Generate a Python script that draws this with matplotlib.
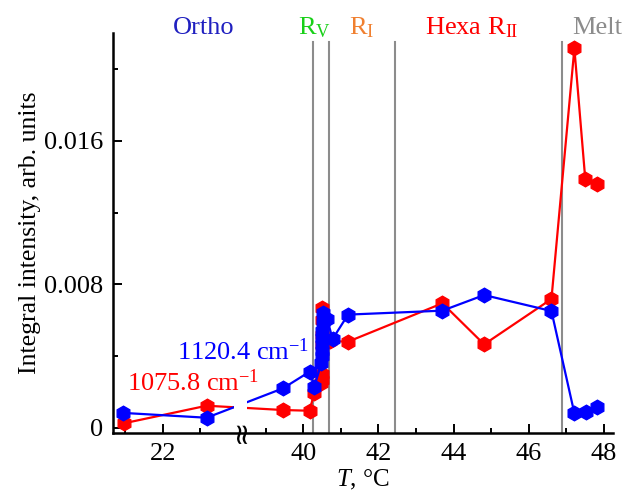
import matplotlib
matplotlib.use("Agg")
import matplotlib.pyplot as plt
import numpy as np

plt.rcParams["font.family"] = "Liberation Serif"
plt.rcParams["mathtext.fontset"] = "custom"
plt.rcParams["mathtext.rm"] = "Liberation Serif"
plt.rcParams["mathtext.it"] = "Liberation Serif:italic"

# data (temperature in C, integral intensity)
t_1120 = [20.94, 23.17, 39.46, 40.17, 40.29, 40.48, 40.50, 40.50, 40.50, 40.50,
          40.50, 40.52, 40.52, 40.63, 40.78, 41.19, 43.70, 44.81, 46.60, 47.21,
          47.52, 47.81]
i_1120 = [0.00084, 0.00057, 0.00221, 0.00314, 0.00230, 0.00360, 0.00400, 0.00430,
          0.00470, 0.00500, 0.00540, 0.00590, 0.00640, 0.00610, 0.00496, 0.00632,
          0.00654, 0.00741, 0.00652, 0.00082, 0.00091, 0.00115]

t_1075 = [20.97, 23.17, 39.46, 40.17, 40.29, 40.48, 40.50, 40.50, 40.50, 40.50,
          40.50, 40.50, 40.70, 41.19, 43.70, 44.81, 46.60, 47.21, 47.50, 47.81]
i_1075 = [0.00026, 0.00124, 0.00100, 0.00096, 0.00197, 0.00250, 0.00270, 0.00300,
          0.00460, 0.00520, 0.00600, 0.00670, 0.00485, 0.00481, 0.00695, 0.00466,
          0.00719, 0.02116, 0.01386, 0.01358]

phase_lines = [40.27, 40.69, 42.45, 46.87]
xticks = [22, 40, 42, 44, 46, 48]
xminor = [21, 23, 39, 41, 43, 45, 47]

# broken axis: 24.06 on the left joins 38.32 on the right
LEFT_END = 24.06
RIGHT_START = 38.32
SHIFT = RIGHT_START - LEFT_END


def tx(t):
    t = np.asarray(t, dtype=float)
    return np.where(t > 30, t - SHIFT, t)


fig = plt.figure(figsize=(6.32, 4.95), dpi=100)
ax = fig.add_axes([0.1783, 0.1253, 0.7912, 0.808])

ax.plot(tx(t_1075), i_1075, color="red", lw=1.6, marker="h", ms=10.5,
        mec="red", zorder=2)
ax.plot(tx(t_1120), i_1120, color="blue", lw=1.6, marker="h", ms=10.5,
        mec="blue", zorder=2.2)

for t in phase_lines:
    ax.axvline(tx(t), ymax=0.9775, color="#8c8c8c", lw=1.5, zorder=1)

# gap in the lines at the break
ax.axvspan(LEFT_END - 0.17, LEFT_END + 0.17, ymin=0.015, ymax=0.2,
           color="white", lw=0, zorder=3)
ax.text(LEFT_END, 0.005, "\u2248", rotation=90, transform=ax.get_xaxis_transform(),
        ha="center", va="center", fontsize=21, family="DejaVu Sans", zorder=5,
        clip_on=False)

ax.set_xlim(20.67, 48.23 - SHIFT)
ax.set_ylim(-0.00028, 0.02202)

ax.set_xticks(tx(xticks))
ax.set_xticklabels([str(v) for v in xticks])
ax.set_xticks(tx(xminor), minor=True)
ax.set_yticks([0, 0.008, 0.016])
ax.set_yticklabels(["0", "0.008", "0.016"])
ax.set_yticks([0.004, 0.012, 0.020], minor=True)

for s in ["top", "right"]:
    ax.spines[s].set_visible(False)
for s in ["left", "bottom"]:
    ax.spines[s].set_linewidth(1.8)

ax.tick_params(which="major", direction="in", length=6.5, width=1.4,
               labelsize=19, pad=7)
ax.tick_params(which="minor", direction="in", length=3.6, width=1.4)

ax.set_ylabel("Integral intensity, arb. units", fontsize=18.5, labelpad=2)
ax.set_xlabel("$T$, \u00b0C", fontsize=18, labelpad=2)

ax.text(22.37, 0.00379, "1120.4 cm$^{\u22121}$", color="blue", fontsize=19,
        va="baseline")
ax.text(21.04, 0.00206, "1075.8 cm$^{\u22121}$", color="red", fontsize=19,
        va="baseline")

W, H = 632, 495
top_y = 1 - 34 / H
fig.text(173 / W, top_y, "Ortho", color="#2020c0", fontsize=19, va="baseline")
fig.text(298 / W, top_y, "R$_\\mathrm{V}$", color="#18d018", fontsize=19,
         va="baseline")
fig.text(349 / W, top_y, "R$_\\mathrm{I}$", color="#f08030", fontsize=19,
         va="baseline")
fig.text(425 / W, top_y, "Hexa R$_\\mathrm{II}$", color="red", fontsize=19,
         va="baseline")
fig.text(572 / W, top_y, "Melt", color="#8c8c8c", fontsize=19, va="baseline")

fig.savefig("out.png", dpi=100)
plt.close(fig)
